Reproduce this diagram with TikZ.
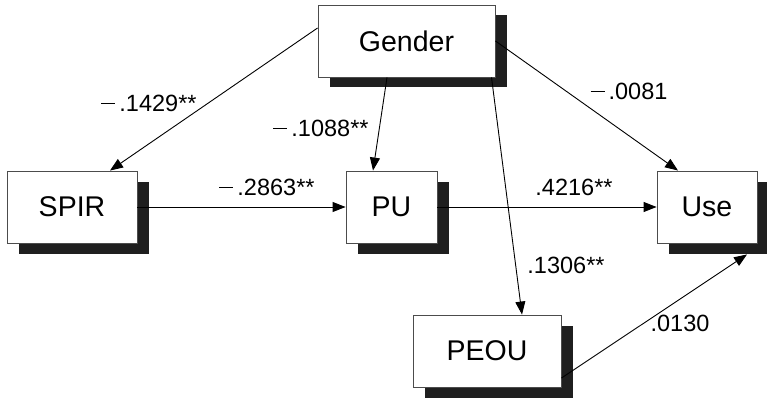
\documentclass[tikz,border=0pt]{standalone}
\usepackage{fontspec}
\setmainfont{Liberation Sans}
\usetikzlibrary{shadows,arrows.meta}
\tikzset{
  vbox/.style={draw=black!70, line width=0.9pt, fill=white, minimum height=72pt,
    inner sep=0pt, font=\fontsize{28.5}{32}\selectfont,
    drop shadow={shadow xshift=12pt, shadow yshift=-10.5pt, fill=black!88, opacity=1}},
  conn/.style={line width=0.9pt, -{Triangle[length=13pt,width=10pt]}},
  lab/.style={font=\fontsize{23.5}{28}\selectfont, inner sep=0pt}
}
\newcommand{\mn}{\rule[7.2pt]{14pt}{1pt}\hspace{4pt}}
\begin{document}
\begin{tikzpicture}[x=1pt,y=-1pt]
\useasboundingbox (0,0) rectangle (767,398);
\node[vbox, minimum width=177pt] (gender) at (406.5,41) {Gender};
\node[vbox, minimum width=130pt] (spir) at (72,207) {SPIR};
\node[vbox, minimum width=91pt] (pu) at (391.5,207) {PU};
\node[vbox, minimum width=100pt] (use) at (707,207) {Use};
\node[vbox, minimum width=148pt] (peou) at (487,351) {PEOU};

\coordinate (gs) at ([yshift=13pt]gender.west);
\coordinate (spt) at ([xshift=38pt]spir.north);
\coordinate (gpu) at ([xshift=-19.5pt]gender.south);
\coordinate (put) at ([xshift=-18.5pt]pu.north);
\coordinate (gpe) at ([xshift=85pt]gender.south);
\coordinate (pet) at ([xshift=35pt]peou.north);
\coordinate (ust) at ([xshift=-29pt]use.north);
\coordinate (pes) at ([yshift=-27pt]peou.east);
\coordinate (usb) at ([xshift=40pt,yshift=-11pt]use.south);

\draw[conn] (gs) -- (spt);
\draw[conn] (gpu) -- (put);
\draw[conn] (gpe) -- (pet);
\draw[conn] (gender.east) -- (ust);
\draw[conn] (spir.east) -- (pu.west);
\draw[conn] (pu.east) -- (use.west);
\draw[conn] (pes) -- (usb);

\node[lab] (l1) at (149,103) {\mn.1429**};
\node[lab] (l2) at (321,128) {\mn.1088**};
\node[lab] (l3) at (267,187) {\mn.2863**};
\node[lab] (l4) at (629,91) {\mn.0081};
\node[lab] (l5) at (574,187) {.4216**};
\node[lab] (l6) at (566,265) {.1306**};
\node[lab] (l7) at (680,323) {.0130};
\end{tikzpicture}
\end{document}
